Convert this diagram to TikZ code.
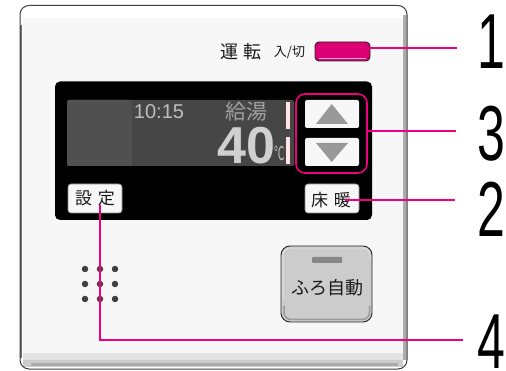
\documentclass[tikz,border=0pt]{standalone}
\usepackage{fontspec}
\setmainfont{Liberation Sans}
\newfontfamily\cjk{Noto Sans CJK JP}
\definecolor{pinkline}{HTML}{F0007F}
\definecolor{panelbg}{HTML}{F7F7F7}
\definecolor{lcdA}{HTML}{505050}
\definecolor{lcdB}{HTML}{464646}
\definecolor{lcdtext}{HTML}{BEBEBE}
\definecolor{lcdbig}{HTML}{D0D0D0}
\definecolor{tri}{HTML}{999999}
\tikzset{
  px/.style={x=1pt,y=-1pt},
  conn/.style={draw=pinkline,line width=1.8pt},
  keybtn/.style={draw=black!45,line width=.6pt,fill=panelbg,rounded corners=3pt},
  num/.style={font=\fontsize{50}{50}\selectfont,inner sep=0pt,anchor=center,yscale=1.56},
  label/.style={font=\cjk,inner sep=0pt,text=black!90},
  dot/.style={circle,fill=black!75,inner sep=0pt,minimum size=6.5pt}
}
\begin{document}
\begin{tikzpicture}[px]
\useasboundingbox (0,0) rectangle (506,371);
\fill[white] (0,0) rectangle (506,371);
% panel
\fill[white,rounded corners=9pt] (20,5.5) rectangle (407,369);
\fill[panelbg] (23,18) rectangle (403,353);
\fill[black!11] (23,353) rectangle (403,360);
\fill[black!20] (23,360) rectangle (403,367);
\fill[black!33] (31,363) rectangle (398,366);
\fill[black!32] (403,15) rectangle (406.5,360);
\draw[black!55,line width=1.6pt] (21,25) -- (21,358);
\draw[black!75,line width=1pt,rounded corners=9pt] (20,5.5) rectangle (407,369);
% display
\fill[black,rounded corners=5pt] (55,81.5) rectangle (372,220);
\fill[lcdB,rounded corners=2pt] (67,100) rectangle (294,166);
\fill[lcdA,rounded corners=2pt] (67,100) rectangle (132,166);
\fill[lcdA] (122,100) rectangle (130,166);
\node[font=\fontsize{20}{20}\selectfont,text=lcdtext,inner sep=0pt] (clock) at (159,112) {10:15};
\node[font=\cjk\fontsize{21}{21}\selectfont,text=lcdtext!85!black,inner sep=0pt] (kyuto) at (246,112) {給湯};
\node[font=\bfseries\fontsize{52}{52}\selectfont,text=lcdbig,inner sep=0pt] (temp) at (246.5,145.5) {40};
\node[font=\cjk\fontsize{19}{19}\selectfont,text=lcdtext,inner sep=0pt,xscale=.55] (deg) at (280,153) {℃};
\fill[pink!40] (286,102) rectangle (290,129);
\fill[pink!40] (286,137) rectangle (290,164);
% arrow buttons
\fill[panelbg,rounded corners=2pt] (305,100) rectangle (359,128);
\fill[panelbg,rounded corners=2pt] (305,138) rectangle (359,166);
\fill[tri] (331.7,104) -- (348,124) -- (316,124) -- cycle;
\fill[tri] (331.7,162) -- (348,143) -- (316,143) -- cycle;
\node[draw=pinkline,line width=1.6pt,rounded corners=9pt,minimum width=71pt,minimum height=79pt,inner sep=0pt] (updown) at (331.5,133.5) {};
% key buttons
\node[keybtn,minimum width=54pt,minimum height=29pt,inner sep=0pt] (settei) at (95,198.5) {};
\node[label,font=\cjk\fontsize{17}{17}\selectfont] (setteit) at (95,198) {設\hspace{6pt}定};
\node[keybtn,minimum width=54pt,minimum height=29pt,inner sep=0pt] (yukadan) at (332,198.5) {};
\node[label,font=\cjk\fontsize{17}{17}\selectfont] (yukadant) at (331,200) {床\hspace{6pt}暖};
% power
\node[label,font=\cjk\fontsize{18}{18}\selectfont] (unten) at (241,51.5) {運\hspace{5pt}転};
\node[label,font=\cjk\fontsize{13}{13}\selectfont] (nyukiri) at (289.5,52) {入/切};
\node[draw=black!85,line width=.9pt,fill=pinkline!92!black,rounded corners=4pt,minimum width=55pt,minimum height=19pt,inner sep=0pt] (power) at (342.5,51.5) {};
\draw[white!70!pinkline,line width=1pt] (319,58.5) -- (366,58.5);
% speaker
\foreach \x in {85,100,115}{\foreach \y in {269,284,299}{\node[dot] at (\x,\y) {};}}
% bath button
\node[draw=black!85,line width=.9pt,fill=black!20,rounded corners=9pt,minimum width=91pt,minimum height=76pt,inner sep=0pt] (bath) at (326.5,284) {};
\draw[black!40,line width=1.5pt,rounded corners=7pt] (284,306) -- (284,319.5) -- (369.5,319.5) -- (369.5,306);
\draw[black!10,line width=.8pt,rounded corners=7pt] (283,300) -- (283,248) -- (370,248) -- (370,260);
\fill[black!47,rounded corners=1pt] (312,257) rectangle (342,263);
\node[label,font=\cjk\fontsize{18}{18}\selectfont] (batht) at (327,288) {ふろ自動};
% numerals
\node[num] (n1) at (491.5,41.5) {1};
\node[num] (n3) at (491.5,134) {3};
\node[num] (n2) at (491.5,209.5) {2};
\node[num] (n4) at (491.5,342) {4};
% connectors
\coordinate (e1) at (457,48);
\coordinate (e3) at (456,130.7);
\coordinate (e2) at (455,200);
\coordinate (e4) at (463,340);
\coordinate (c4) at (100,340);
\coordinate (s4) at (100,205);
\coordinate (s2) at (345,200);
\draw[conn] (power.east |- e1) -- (e1);
\draw[conn] (updown.east |- e3) -- (e3);
\draw[conn] (s2) -- (e2);
\draw[conn] (s4) -- (c4) -- (e4);
\end{tikzpicture}
\end{document}
